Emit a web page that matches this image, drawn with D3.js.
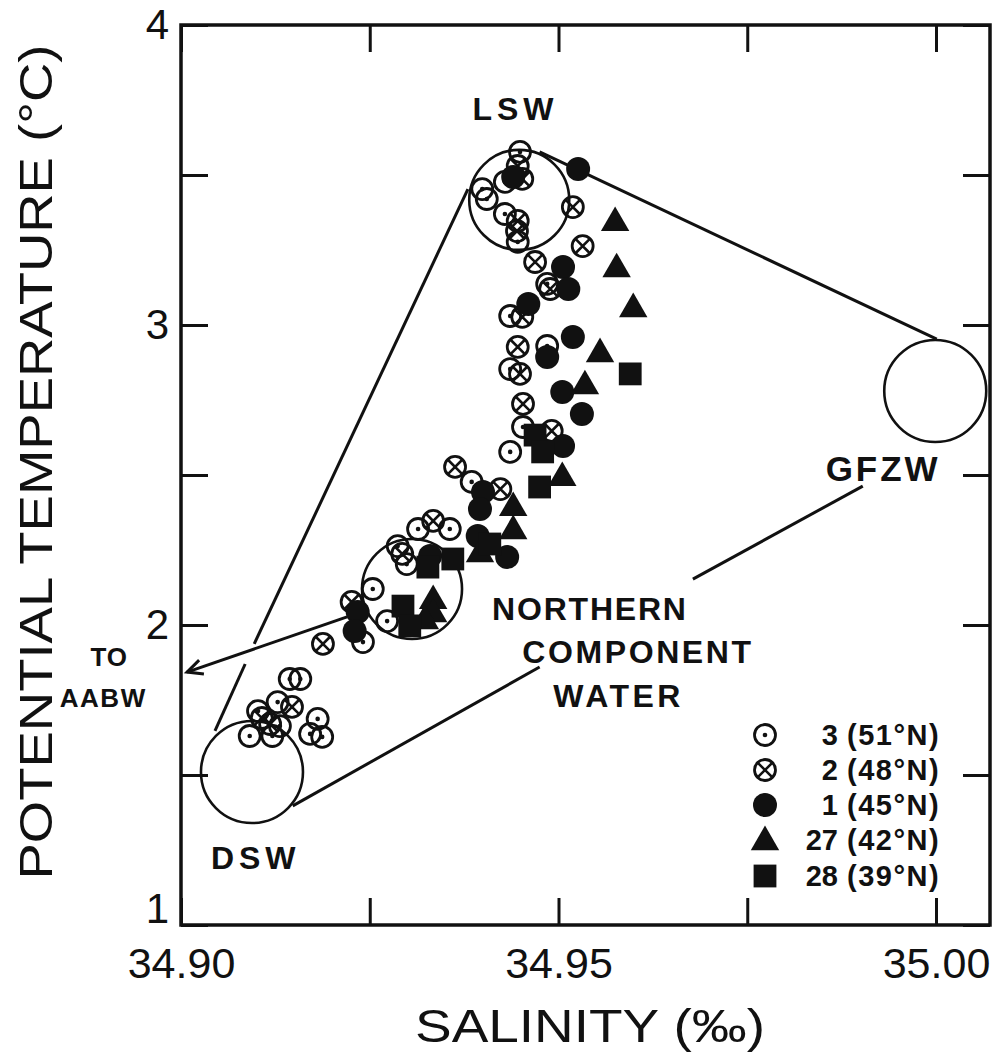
<!DOCTYPE html>
<html><head><meta charset="utf-8">
<script src="https://cdn.jsdelivr.net/npm/d3@7"></script>
<style>
html,body{margin:0;padding:0;background:#fff;}
svg{display:block;}
text{font-family:"Liberation Sans",Arial,sans-serif;fill:#111;}
</style></head>
<body>
<svg id="chart" width="1004" height="1055"></svg>
<script>
// ---------------- DATA ----------------
const salinityTicks = [34.90, 34.925, 34.95, 34.975, 35.00];
const salinityLabels = ["34.90", "", "34.95", "", "35.00"];
const tempTicks = [1, 1.5, 2, 2.5, 3, 3.5, 4];
const tempLabels = ["1", "", "2", "", "3", "", "4"];

// station 3 (51°N) — open circle with dot  [salinity, potential temperature]
const station3 = [
  [34.9449,3.577],[34.9429,3.477],[34.9399,3.453],[34.9405,3.420],[34.9429,3.370],
  [34.9446,3.277],[34.9485,3.137],[34.9436,3.030],[34.9485,2.930],[34.9436,2.853],
  [34.9453,2.660],[34.9436,2.577],[34.9385,2.477],[34.9314,2.320],[34.9356,2.320],
  [34.9287,2.263],[34.9299,2.203],[34.9254,2.120],[34.9273,2.013],[34.9241,1.943],
  [34.9144,1.820],[34.9158,1.820],[34.9102,1.713],[34.9128,1.743],[34.9091,1.630],
  [34.9121,1.630],[34.9131,1.663],[34.9181,1.687],[34.9171,1.637],[34.9187,1.627]
];
// station 2 (48°N) — crossed circle
const station2 = [
  [34.9446,3.530],[34.9452,3.487],[34.9446,3.347],[34.9445,3.313],[34.9519,3.393],
  [34.9532,3.263],[34.9469,3.210],[34.9489,3.120],[34.9452,3.027],[34.9446,2.927],
  [34.9449,2.837],[34.9453,2.737],[34.9491,2.647],[34.9363,2.527],[34.9423,2.453],
  [34.9334,2.347],[34.9293,2.237],[34.9226,2.077],[34.9188,1.937],[34.9147,1.727],
  [34.9118,1.670],[34.9107,1.690]
];
// station 1 (45°N) — filled circle
const station1 = [
  [34.9440,3.493],[34.9526,3.520],[34.9506,3.193],[34.9513,3.120],[34.9460,3.070],
  [34.9519,2.960],[34.9485,2.893],[34.9505,2.777],[34.9531,2.703],[34.9506,2.597],
  [34.9400,2.443],[34.9396,2.387],[34.9393,2.297],[34.9432,2.227],[34.9330,2.230],
  [34.9234,2.043],[34.9230,1.980]
];
// station 27 (42°N) — filled triangle
const station27 = [
  [34.9575,3.347],[34.9577,3.193],[34.9599,3.060],[34.9555,2.910],[34.9535,2.803],
  [34.9505,2.497],[34.9440,2.397],[34.9440,2.320],[34.9396,2.243],[34.9334,2.087],
  [34.9334,2.043],[34.9323,2.020]
];
// station 28 (39°N) — filled square
const station28 = [
  [34.9595,2.837],[34.9469,2.633],[34.9479,2.577],[34.9475,2.460],[34.9409,2.270],
  [34.9360,2.220],[34.9327,2.193],[34.9294,2.063],[34.9303,1.997]
];

const legendStations = ["3", "2", "1", "27", "28"];
const legendLatitudes = ["(51°N)", "(48°N)", "(45°N)", "(42°N)", "(39°N)"];

// water-mass end members (centres)
const massNames = ["LSW", "GFZW", "DSW", "NCW"];
const massSalinity = [34.9448, 34.9999, 34.9094, 34.9306];
const massTemp = [3.417, 2.780, 1.510, 2.120];

// mixing / pointer lines [s1,t1,s2,t2]
const mixingLines = [
  [34.9475,3.577, 35.0001,2.953],   // LSW - GFZW
  [34.9380,3.453, 34.9097,1.937],   // LSW - DSW (upper part)
  [34.9085,1.870, 34.9045,1.647],   // LSW - DSW (lower part)
  [34.9148,1.397, 34.9475,1.860],   // DSW -> label
  [34.9678,2.153, 34.9903,2.463]    // label -> GFZW
];
const arrowLine = [34.9220,2.027, 34.9008,1.843]; // to AABW

// ---------------- CHART ----------------
const svg = d3.select("#chart");
const x = d3.scaleLinear().domain([34.90, 35.00]).range([181, 936]);
const y = d3.scaleLinear().domain([1, 4]).range([925, 25]);
const xL = 181, xR = 990, yT = 25, yB = 925;
const ink = "#111";

// frame
svg.append("rect").attr("x", xL).attr("y", yT).attr("width", xR - xL).attr("height", yB - yT)
  .attr("fill", "none").attr("stroke", ink).attr("stroke-width", 3.5);

function styleAxis(g){
  g.select(".domain").remove();
  g.selectAll(".tick line").attr("stroke", ink).attr("stroke-width", 3);
  g.selectAll(".tick text").attr("fill", ink)
    .style("font-family", '"Liberation Sans",Arial,sans-serif');
}
const fmtX = (d) => salinityLabels[salinityTicks.indexOf(d)];
const fmtY = (d) => tempLabels[tempTicks.indexOf(d)];

svg.append("g").attr("transform", `translate(0,${yB})`)
  .call(d3.axisBottom(x).tickValues(salinityTicks).tickSize(-27).tickSizeOuter(0).tickPadding(22).tickFormat(fmtX))
  .call(styleAxis).call(g => g.selectAll(".tick text").style("font-size", "43px"));
svg.append("g").attr("transform", `translate(0,${yT})`)
  .call(d3.axisTop(x).tickValues(salinityTicks).tickSize(-27).tickSizeOuter(0).tickFormat(""))
  .call(styleAxis);
svg.append("g").attr("transform", `translate(${xL},0)`)
  .call(d3.axisLeft(y).tickValues(tempTicks).tickSize(-27).tickSizeOuter(0).tickPadding(12).tickFormat(fmtY))
  .call(styleAxis).call(g => {
    g.selectAll(".tick text").style("font-size", "42px");
    g.selectAll(".tick").filter(d => d === 1).select("text").attr("dy", "-0.05em");
  });
svg.append("g").attr("transform", `translate(${xR},0)`)
  .call(d3.axisRight(y).tickValues(tempTicks).tickSize(-27).tickSizeOuter(0).tickFormat(""))
  .call(styleAxis);

// axis titles
svg.append("text").attr("x", 590).attr("y", 1042).attr("text-anchor", "middle")
  .attr("textLength", 350).attr("lengthAdjust", "spacingAndGlyphs")
  .style("font-size", "46px").text("SALINITY (‰)");
svg.append("text").attr("transform", "translate(52,462) rotate(-90)").attr("text-anchor", "middle")
  .attr("textLength", 835).attr("lengthAdjust", "spacingAndGlyphs")
  .style("font-size", "46px").text("POTENTIAL TEMPERATURE (°C)");

const plot = svg.append("g");

// water-mass circles
const massRadius = [50, 51, 51, 50];
plot.selectAll("circle.mass").data(massNames).join("circle").attr("class", "mass")
  .attr("cx", (d, i) => x(massSalinity[i])).attr("cy", (d, i) => y(massTemp[i]))
  .attr("r", (d, i) => massRadius[i])
  .attr("fill", "none").attr("stroke", ink).attr("stroke-width", 2.6);

// lines
plot.selectAll("line.mix").data(mixingLines).join("line").attr("class", "mix")
  .attr("x1", d => x(d[0])).attr("y1", d => y(d[1]))
  .attr("x2", d => x(d[2])).attr("y2", d => y(d[3]))
  .attr("stroke", ink).attr("stroke-width", 3);

// arrow to AABW
{
  const x1 = x(arrowLine[0]), y1 = y(arrowLine[1]), x2 = x(arrowLine[2]), y2 = y(arrowLine[3]);
  plot.append("line").attr("x1", x1).attr("y1", y1).attr("x2", x2).attr("y2", y2)
    .attr("stroke", ink).attr("stroke-width", 3);
  const ang = Math.atan2(y1 - y2, x1 - x2);
  const L = 17, spread = 0.45;
  const p = [
    [x2 + L * Math.cos(ang + spread), y2 + L * Math.sin(ang + spread)],
    [x2, y2],
    [x2 + L * Math.cos(ang - spread), y2 + L * Math.sin(ang - spread)]
  ];
  plot.append("path").attr("d", d3.line()(p)).attr("fill", "none")
    .attr("stroke", ink).attr("stroke-width", 3);
}

// markers
const R = 10.5;
function drawOpenDot(g){
  g.append("circle").attr("r", R).attr("fill", "none").attr("stroke", ink).attr("stroke-width", 2.8);
  g.append("circle").attr("r", 2.3).attr("fill", ink);
}
function drawCrossed(g){
  g.append("circle").attr("r", R).attr("fill", "none").attr("stroke", ink).attr("stroke-width", 2.8);
  const k = R * 0.66;
  g.append("path").attr("d", `M${-k},${-k}L${k},${k}M${-k},${k}L${k},${-k}`)
    .attr("stroke", ink).attr("stroke-width", 2.6);
}
function drawFilled(g){
  g.append("circle").attr("r", 12).attr("fill", ink);
}
function drawTriangle(g){
  g.append("path").attr("d", d3.symbol(d3.symbolTriangle, 350)()).attr("transform", "translate(0,2)").attr("fill", ink);
}
function drawSquare(g){
  g.append("path").attr("d", d3.symbol(d3.symbolSquare, 520)()).attr("fill", ink);
}

const series = [
  {data: station3, draw: drawOpenDot},
  {data: station2, draw: drawCrossed},
  {data: station1, draw: drawFilled},
  {data: station27, draw: drawTriangle},
  {data: station28, draw: drawSquare}
];
const marks = plot.append("g");
series.forEach(s => {
  marks.append("g").selectAll("g").data(s.data).join("g")
    .attr("transform", d => `translate(${x(d[0])},${y(d[1])})`)
    .each(function(){ s.draw(d3.select(this)); });
});

// annotations (anchored in data coordinates)
function label(txt, sx, ty, size, anchor, ls){
  svg.append("text").attr("x", x(sx)).attr("y", y(ty)).attr("text-anchor", anchor || "start")
    .style("font-size", size + "px").style("font-weight", "bold")
    .style("letter-spacing", (ls || 1.5) + "px").text(txt);
}
label("LSW", 34.9443, 3.683, 32, "middle", 5);
label("GFZW", 34.9930, 2.480, 35, "middle", 3);
label("DSW", 34.9099, 1.187, 32, "middle", 5);
label("TO", 34.8905, 1.863, 26, "middle", 1);
label("AABW", 34.8897, 1.727, 26, "middle", 0);
label("NORTHERN", 34.9412, 2.017, 32, "start", 1.8);
label("COMPONENT", 34.9452, 1.873, 32, "start", 2.6);
label("WATER", 34.9493, 1.727, 32, "start", 3.5);

// legend
const legendDraw = [drawOpenDot, drawCrossed, drawFilled, drawTriangle, drawSquare];
const legendY = [735, 770, 805, 840, 876];
const lg = svg.append("g");
legendStations.forEach((st, i) => {
  const g = lg.append("g").attr("transform", `translate(765,${legendY[i]})`);
  legendDraw[i](g);
  lg.append("text").attr("x", 838).attr("y", legendY[i] + 10).attr("text-anchor", "end")
    .style("font-size", "29px").style("font-weight", "bold").text(st);
  lg.append("text").attr("x", 847).attr("y", legendY[i] + 10)
    .style("font-size", "29px").style("font-weight", "bold").style("letter-spacing", "1.5px").text(legendLatitudes[i]);
});
</script>
</body></html>
